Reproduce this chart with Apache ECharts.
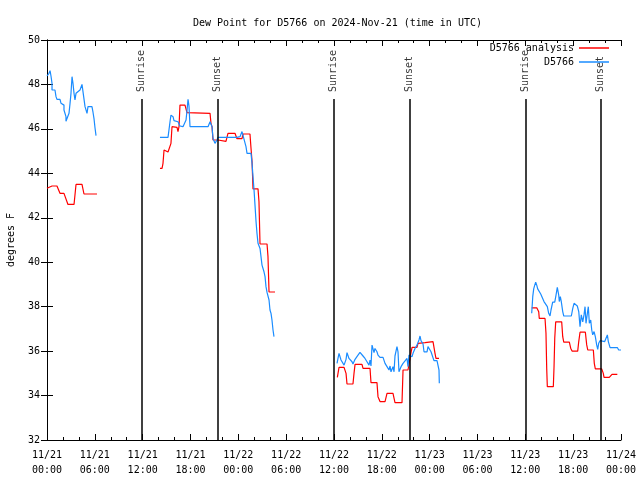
<!DOCTYPE html>
<html>
<head>
<meta charset="utf-8">
<script src="https://cdn.jsdelivr.net/npm/echarts@6/dist/echarts.min.js"></script>
<style>html,body{margin:0;padding:0;background:#fff}#c{width:640px;height:480px}</style>
</head>
<body>
<div id="c"></div>
<script>
// Hours since 2024-11-21 00:00 UTC
const xTickLabels = ['11/21\n00:00','11/21\n06:00','11/21\n12:00','11/21\n18:00','11/22\n00:00','11/22\n06:00','11/22\n12:00','11/22\n18:00','11/23\n00:00','11/23\n06:00','11/23\n12:00','11/23\n18:00','11/24\n00:00'];
const sunEventHours = [11.88, 21.37, 35.92, 45.45, 60.05, 69.45];
const sunEventNames = ['Sunrise','Sunset','Sunrise','Sunset','Sunrise','Sunset'];

const analysisSeg1 = [[0,43.33],[0.63,43.43],[1.25,43.43],[1.63,43.1],[2.13,43.1],[2.63,42.6],[3.39,42.6],[3.64,43.5],[4.39,43.5],[4.64,43.07],[6.27,43.07]];
const analysisSeg2 = [[14.17,44.22],[14.43,44.22],[14.55,44.45],[14.68,45.05],[14.93,45.05],[15.18,44.96],[15.43,44.96],[15.55,45.35],[15.68,46.1],[16.31,46.07],[16.43,45.88],[16.56,46.1],[16.68,47.07],[17.31,47.07],[17.56,46.73],[17.69,46.7],[20.45,46.7],[20.57,46.25],[20.7,46.1],[20.82,45.5],[21.45,45.5],[21.58,45.44],[22.45,45.44],[22.7,45.8],[23.58,45.8],[23.83,45.56],[24.46,45.56],[24.59,45.77],[25.46,45.77],[25.59,45.13],[25.72,44.53],[25.84,43.3],[26.47,43.3],[26.59,42.72],[26.72,40.82],[27.6,40.82],[27.72,40.25],[27.85,38.66],[28.6,38.66]];
const analysisSeg3 = [[36.42,34.82],[36.63,35.27],[37.26,35.27],[37.51,35.0],[37.63,34.52],[38.38,34.52],[38.51,35.0],[38.64,35.4],[39.51,35.4],[39.64,35.22],[40.52,35.22],[40.64,34.58],[41.39,34.58],[41.52,33.95],[41.77,33.73],[42.4,33.73],[42.65,34.1],[43.4,34.1],[43.65,33.68],[44.53,33.68],[44.66,35.15],[45.28,35.15],[45.66,35.93],[45.79,36.17],[46.41,36.17],[46.54,36.35],[47.42,36.38],[47.67,36.43],[48.42,36.43],[48.67,35.9],[48.79,35.67],[49.17,35.67]];
const analysisSeg4 = [[60.8,37.95],[61.43,37.95],[61.68,37.77],[61.75,37.47],[62.47,37.47],[62.59,36.8],[62.68,35.23],[62.76,34.4],[63.51,34.4],[63.6,35.3],[63.69,36.58],[63.81,37.32],[64.56,37.32],[64.69,36.65],[64.82,36.4],[65.52,36.4],[65.69,36.13],[65.86,36.0],[66.57,36.0],[66.7,36.43],[66.86,36.85],[67.53,36.85],[67.7,36.28],[67.83,36.05],[68.53,36.05],[68.65,35.45],[68.78,35.2],[69.58,35.2],[69.78,35.0],[69.87,34.82],[70.53,34.82],[70.87,34.95],[71.54,34.95]];

const obsSeg1 = [[0,48.38],[0.25,48.5],[0.38,48.62],[0.5,48.38],[0.63,48.05],[0.63,47.75],[1.0,47.75],[1.13,47.45],[1.25,47.33],[1.63,47.33],[1.76,47.15],[1.88,47.07],[2.13,47.07],[2.13,46.85],[2.38,46.55],[2.38,46.34],[2.63,46.34],[2.76,46.7],[2.89,47.15],[3.01,47.6],[3.14,48.35],[3.26,48.05],[3.39,47.6],[3.51,47.3],[3.64,47.6],[3.89,47.65],[4.14,47.75],[4.39,48.0],[4.64,48.0],[4.77,47.0],[5.02,46.7],[5.14,47.0],[5.64,47.0],[5.77,46.75],[5.9,46.45],[6.02,46.05],[6.15,45.7]];
const obsSeg2 = [[14.17,45.62],[15.18,45.62],[15.43,46.32],[15.55,46.62],[15.81,46.55],[15.93,46.37],[16.43,46.32],[16.68,46.13],[17.06,46.1],[17.44,46.4],[17.56,46.82],[17.69,47.33],[17.81,47.03],[17.94,46.1],[20.2,46.1],[20.45,46.32],[20.7,46.1],[20.82,45.58],[21.07,45.35],[21.32,45.5],[21.45,45.62],[23.83,45.62],[24.21,45.65],[24.46,45.88],[24.71,45.88],[24.96,45.2],[25.09,44.9],[25.59,44.9],[25.72,44.45],[25.84,43.85],[25.97,43.25],[26.09,42.57],[26.22,41.83],[26.34,41.3],[26.47,40.85],[26.72,40.62],[26.97,39.87],[27.22,39.57],[27.35,39.35],[27.47,38.9],[27.6,38.64],[27.72,38.64],[27.85,38.3],[27.97,37.85],[28.1,37.7],[28.22,37.4],[28.35,36.95],[28.47,36.65]];
const obsSeg3 = [[36.38,35.45],[36.5,35.67],[36.63,35.9],[36.88,35.6],[37.13,35.6],[37.26,35.37],[37.38,35.3],[37.51,35.63],[37.63,35.93],[37.88,35.67],[38.13,35.63],[38.26,35.52],[38.38,35.42],[38.64,35.63],[38.89,35.63],[39.01,35.82],[39.26,35.94],[39.51,35.94],[39.64,35.78],[39.89,35.67],[40.14,35.52],[40.39,35.37],[40.52,35.6],[40.64,35.33],[40.77,36.27],[41.02,35.93],[41.14,36.12],[41.39,35.97],[41.52,35.82],[41.77,35.72],[42.15,35.72],[42.4,35.45],[42.65,35.3],[42.9,35.15],[43.03,35.33],[43.15,35.07],[43.4,35.3],[43.53,35.07],[43.65,35.78],[43.9,36.2],[44.03,35.97],[44.15,35.07],[44.41,35.3],[44.66,35.45],[44.91,35.52],[45.16,35.67],[45.28,35.3],[45.41,35.82],[45.66,35.9],[45.79,35.75],[45.91,35.9],[46.16,36.12],[46.41,36.27],[46.66,36.5],[46.79,36.68],[46.91,36.47],[47.17,36.32],[47.29,35.97],[47.67,35.97],[47.79,36.2],[48.04,36.2],[48.17,35.97],[48.42,35.9],[48.54,35.57],[48.92,35.57],[49.17,35.15],[49.21,34.55]];
const obsSeg4 = [[60.8,37.7],[60.93,38.45],[61.05,38.8],[61.18,38.97],[61.3,39.1],[61.43,38.97],[61.55,38.8],[61.8,38.75],[61.93,38.57],[62.18,38.5],[62.34,38.23],[62.59,38.15],[62.76,38.0],[62.93,37.7],[63.1,37.58],[63.22,37.85],[63.43,38.2],[63.69,38.2],[63.85,38.52],[64.01,38.87],[64.19,38.52],[64.26,38.23],[64.39,38.45],[64.51,38.23],[64.69,37.78],[64.82,37.58],[65.77,37.58],[65.95,37.92],[66.11,38.15],[66.36,38.15],[66.52,38.03],[66.7,37.78],[66.86,37.1],[67.02,37.63],[67.2,37.32],[67.36,37.63],[67.49,38.0],[67.61,37.25],[67.78,37.7],[67.9,38.0],[68.03,37.25],[68.2,37.4],[68.33,36.95],[68.45,36.73],[68.62,36.88],[68.78,36.65],[68.95,36.28],[69.08,36.08],[69.2,36.35],[69.37,36.47],[69.53,36.38],[69.96,36.43],[70.12,36.58],[70.29,36.73],[70.41,36.43],[70.63,36.16],[71.54,36.16],[71.71,36.05],[72,36.05]];

function joinSegs(segs) {
  const out = [];
  segs.forEach((s, i) => {
    if (i > 0) out.push([(segs[i-1][segs[i-1].length-1][0] + s[0][0]) / 2, '-']);
    s.forEach(p => out.push(p));
  });
  return out;
}
const analysisData = joinSegs([analysisSeg1, analysisSeg2, analysisSeg3, analysisSeg4]);
const obsData = joinSegs([obsSeg1, obsSeg2, obsSeg3, obsSeg4]);

const FONT = 'DejaVu Sans Mono';
const TXT = {fontFamily: FONT, fontSize: 10, color: '#000'};
const LINE_TOP = 47.35, LABEL_BASE = 47.66, YMIN = 32, YMAX = 50;

const chart = echarts.init(document.getElementById('c'), null, {renderer: 'canvas'});
const axisCommon = {
  axisLine: {show: true, lineStyle: {color: '#000', width: 1}},
  splitLine: {show: false}
};
chart.setOption({
  animation: false,
  backgroundColor: '#fff',
  title: {text: 'Dew Point for D5766 on 2024-Nov-21 (time in UTC)', left: 188, top: 13,
    textStyle: Object.assign({}, TXT, {fontWeight: 'normal'})},
  legend: [
    {data: ['D5766 analysis'], right: 31, top: 43, orient: 'vertical', align: 'right', padding: 0,
     icon: 'rect', itemWidth: 30, itemHeight: 1.5, textStyle: TXT},
    {data: ['D5766'], right: 31, top: 57, orient: 'vertical', align: 'right', padding: 0,
     icon: 'rect', itemWidth: 30, itemHeight: 1.5, textStyle: TXT}
  ],
  grid: {left: 47, right: 19, top: 40, bottom: 40, containLabel: false, outerBoundsMode: 'none'},
  xAxis: [
    Object.assign({type: 'value', min: 0, max: 72, interval: 6, position: 'bottom',
      axisTick: {show: true, inside: true, length: 6, lineStyle: {color: '#000'}},
      minorTick: {show: true, splitNumber: 3, length: 3, lineStyle: {color: '#000'}},
      axisLabel: Object.assign({margin: 8, lineHeight: 15, formatter: v => xTickLabels[Math.round(v / 6)]}, TXT)
    }, axisCommon),
    Object.assign({type: 'value', min: 0, max: 72, interval: 6, position: 'top',
      axisTick: {show: true, inside: true, length: 6, lineStyle: {color: '#000'}},
      minorTick: {show: true, splitNumber: 3, length: 3, lineStyle: {color: '#000'}},
      axisLabel: {show: false}
    }, axisCommon)
  ],
  yAxis: [
    Object.assign({type: 'value', min: YMIN, max: YMAX, interval: 2, position: 'left',
      name: 'degrees F', nameLocation: 'middle', nameGap: 31, nameRotate: 90, nameTextStyle: TXT,
      axisTick: {show: true, inside: true, length: 6, lineStyle: {color: '#000'}},
      axisLabel: Object.assign({margin: 7}, TXT)
    }, axisCommon),
    Object.assign({type: 'value', min: YMIN, max: YMAX, interval: 2, position: 'right',
      axisTick: {show: true, inside: true, length: 6, lineStyle: {color: '#000'}},
      axisLabel: {show: false}
    }, axisCommon)
  ],
  series: [
    {
      name: 'sun', type: 'scatter', symbolSize: 0, silent: true,
      data: sunEventHours.map((h, i) => ({value: [h, LABEL_BASE], name: sunEventNames[i]})),
      label: {show: true, position: 'inside', rotate: 90, align: 'left', verticalAlign: 'middle',
        formatter: p => p.name, fontFamily: FONT, fontSize: 10, color: '#000'},
      markLine: {silent: true, symbol: ['none', 'none'], label: {show: false},
        lineStyle: {color: '#000', width: 1.5, type: 'solid'},
        data: sunEventHours.map(h => [{coord: [h, YMIN]}, {coord: [h, LINE_TOP]}])}
    },
    {
      name: 'D5766 analysis', type: 'line', data: analysisData, symbol: 'none', showSymbol: false,
      connectNulls: false, color: '#ff0000', lineStyle: {color: '#ff0000', width: 1.2}
    },
    {
      name: 'D5766', type: 'line', data: obsData, symbol: 'none', showSymbol: false,
      connectNulls: false, color: '#1a8cff', lineStyle: {color: '#1a8cff', width: 1.2}
    }
  ]
});
</script>
</body>
</html>
